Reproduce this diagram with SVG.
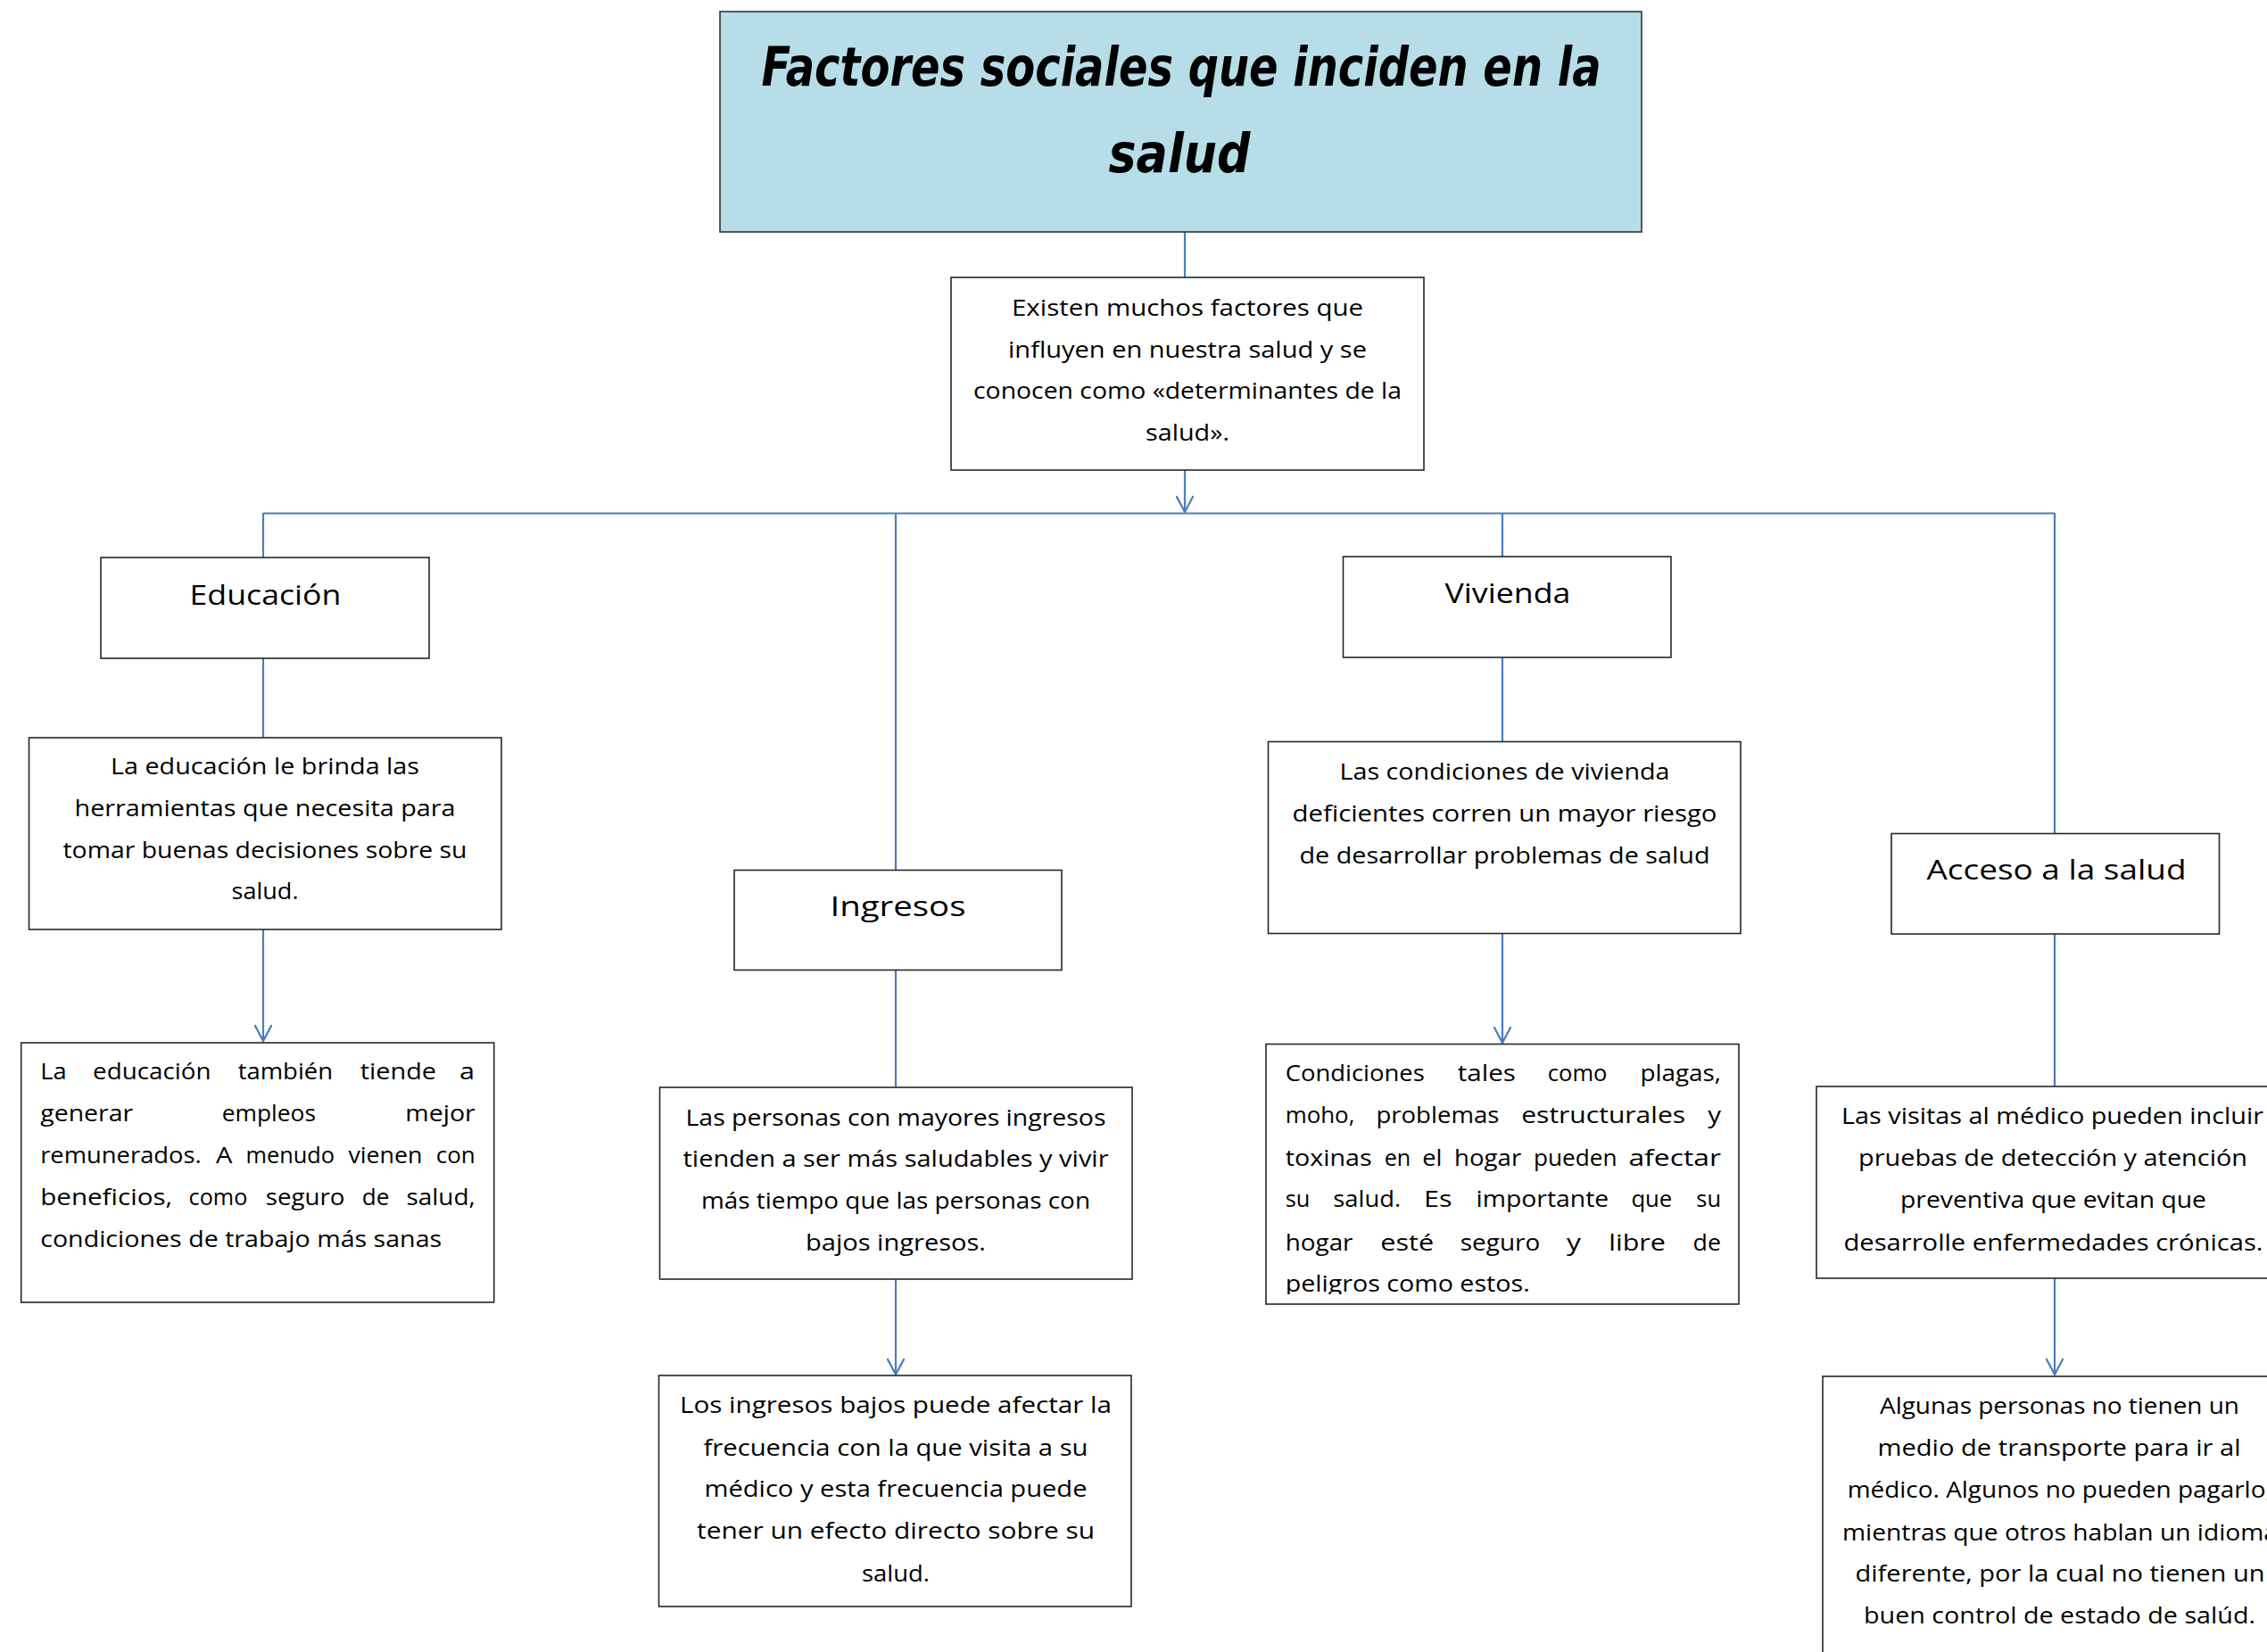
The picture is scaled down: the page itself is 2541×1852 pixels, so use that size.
<svg xmlns="http://www.w3.org/2000/svg" width="2541" height="1852" viewBox="0 0 2541 1852">
<defs>
<style>
.box{fill:#ffffff;stroke:#262626;stroke-width:1.6}
.title-box{fill:#b7dde8;stroke:#333333;stroke-width:1.6}
.conn{fill:none;stroke:#4a7ebb;stroke-width:2.2}
.t{font-family:"Open Sans","Noto Sans","DejaVu Sans",sans-serif;font-size:26px;fill:#000}
.c{text-anchor:middle}
.h{font-family:"Open Sans","Noto Sans","DejaVu Sans",sans-serif;font-size:31px;fill:#000;text-anchor:middle}
.title{font-family:"DejaVu Sans","Liberation Sans",sans-serif;font-weight:bold;font-style:italic;font-size:60px;fill:#000;text-anchor:middle}
</style>
<marker id="arr" viewBox="0 0 22 20" refX="20" refY="10" markerWidth="22" markerHeight="20" markerUnits="userSpaceOnUse" orient="auto">
<path d="M2,0.5 L20,10 L2,19.5" fill="none" stroke="#4a7ebb" stroke-width="2.2"/>
</marker>
<clipPath id="clipViv"><rect x="1419" y="1171" width="530" height="280"/></clipPath>
</defs>
<rect width="2541" height="1852" fill="#ffffff"/>

<g id="connectors">
<line class="conn" x1="1328" y1="260" x2="1328" y2="311"/>
<line class="conn" x1="1328" y1="527" x2="1328" y2="574" marker-end="url(#arr)"/>
<line class="conn" x1="295" y1="575.5" x2="2303" y2="575.5"/>
<line class="conn" x1="295" y1="575" x2="295" y2="625"/>
<line class="conn" x1="1004" y1="575" x2="1004" y2="975"/>
<line class="conn" x1="1684" y1="575" x2="1684" y2="624"/>
<line class="conn" x1="2303" y1="575" x2="2303" y2="934"/>
<line class="conn" x1="295" y1="738" x2="295" y2="827"/>
<line class="conn" x1="295" y1="1042" x2="295" y2="1167" marker-end="url(#arr)"/>
<line class="conn" x1="1004" y1="1088" x2="1004" y2="1219"/>
<line class="conn" x1="1004" y1="1434" x2="1004" y2="1541" marker-end="url(#arr)"/>
<line class="conn" x1="1684" y1="737" x2="1684" y2="832"/>
<line class="conn" x1="1684" y1="1047" x2="1684" y2="1169" marker-end="url(#arr)"/>
<line class="conn" x1="2303" y1="1047" x2="2303" y2="1218"/>
<line class="conn" x1="2303" y1="1433" x2="2303" y2="1541" marker-end="url(#arr)"/>
</g>

<g id="title">
<rect class="title-box" x="807" y="13" width="1033" height="247"/>
<text class="title" x="1324" y="96" textLength="941" lengthAdjust="spacingAndGlyphs">Factores sociales que inciden en la</text>
<text class="title" x="1322" y="193" textLength="159" lengthAdjust="spacingAndGlyphs">salud</text>
</g>

<g id="intro">
<rect class="box" x="1066" y="311" width="530" height="216"/>
<text class="t c" x="1331" y="354" textLength="394" lengthAdjust="spacingAndGlyphs">Existen muchos factores que</text>
<text class="t c" x="1331" y="400.5" textLength="402" lengthAdjust="spacingAndGlyphs">influyen en nuestra salud y se</text>
<text class="t c" x="1331" y="447" textLength="480" lengthAdjust="spacingAndGlyphs">conocen como «determinantes de la</text>
<text class="t c" x="1331" y="494" textLength="94" lengthAdjust="spacingAndGlyphs">salud».</text>
</g>

<g id="educacion">
<rect class="box" x="113" y="625" width="368" height="113"/>
<text class="h" x="297.5" y="678" textLength="170" lengthAdjust="spacingAndGlyphs">Educación</text>
</g>

<g id="educacion-texto">
<rect class="box" x="32.5" y="827" width="529.5" height="215"/>
<text class="t c" x="297" y="868" textLength="346" lengthAdjust="spacingAndGlyphs">La educación le brinda las</text>
<text class="t c" x="297" y="915" textLength="427" lengthAdjust="spacingAndGlyphs">herramientas que necesita para</text>
<text class="t c" x="297" y="961.5" textLength="453" lengthAdjust="spacingAndGlyphs">tomar buenas decisiones sobre su</text>
<text class="t c" x="297" y="1008" textLength="75" lengthAdjust="spacingAndGlyphs">salud.</text>
</g>

<g id="educacion-empleos">
<rect class="box" x="23.7" y="1169" width="530" height="291"/>
<text class="t" x="45.2" y="1210" textLength="29.4" lengthAdjust="spacingAndGlyphs">La</text>
<text class="t" x="104.1" y="1210" textLength="132.4" lengthAdjust="spacingAndGlyphs">educación</text>
<text class="t" x="266.7" y="1210" textLength="106.4" lengthAdjust="spacingAndGlyphs">también</text>
<text class="t" x="403.7" y="1210" textLength="85.4" lengthAdjust="spacingAndGlyphs">tiende</text>
<text class="t" x="515" y="1210" textLength="17" lengthAdjust="spacingAndGlyphs">a</text>
<text class="t" x="45.2" y="1257" textLength="104" lengthAdjust="spacingAndGlyphs">generar</text>
<text class="t" x="248.8" y="1257" textLength="105.2" lengthAdjust="spacingAndGlyphs">empleos</text>
<text class="t" x="454.3" y="1257" textLength="78.4" lengthAdjust="spacingAndGlyphs">mejor</text>
<text class="t" x="45.2" y="1304" textLength="180.6" lengthAdjust="spacingAndGlyphs">remunerados.</text>
<text class="t" x="241.9" y="1304" textLength="18.4" lengthAdjust="spacingAndGlyphs">A</text>
<text class="t" x="275.5" y="1304" textLength="99.5" lengthAdjust="spacingAndGlyphs">menudo</text>
<text class="t" x="390.4" y="1304" textLength="83" lengthAdjust="spacingAndGlyphs">vienen</text>
<text class="t" x="488.7" y="1304" textLength="44" lengthAdjust="spacingAndGlyphs">con</text>
<text class="t" x="45.2" y="1351" textLength="148" lengthAdjust="spacingAndGlyphs">beneficios,</text>
<text class="t" x="211.6" y="1351" textLength="65.8" lengthAdjust="spacingAndGlyphs">como</text>
<text class="t" x="297.7" y="1351" textLength="88.8" lengthAdjust="spacingAndGlyphs">seguro</text>
<text class="t" x="405.7" y="1351" textLength="30.6" lengthAdjust="spacingAndGlyphs">de</text>
<text class="t" x="455.4" y="1351" textLength="77.3" lengthAdjust="spacingAndGlyphs">salud,</text>
<text class="t" x="45.2" y="1398" textLength="450" lengthAdjust="spacingAndGlyphs">condiciones de trabajo más sanas</text>
</g>

<g id="ingresos">
<rect class="box" x="823" y="975.5" width="367" height="112"/>
<text class="h" x="1006.5" y="1027" textLength="152" lengthAdjust="spacingAndGlyphs">Ingresos</text>
</g>

<g id="ingresos-texto">
<rect class="box" x="739.5" y="1219" width="529.5" height="215"/>
<text class="t c" x="1004" y="1261.5" textLength="471" lengthAdjust="spacingAndGlyphs">Las personas con mayores ingresos</text>
<text class="t c" x="1004" y="1308" textLength="477" lengthAdjust="spacingAndGlyphs">tienden a ser más saludables y vivir</text>
<text class="t c" x="1004" y="1355" textLength="436" lengthAdjust="spacingAndGlyphs">más tiempo que las personas con</text>
<text class="t c" x="1004" y="1401.5" textLength="202" lengthAdjust="spacingAndGlyphs">bajos ingresos.</text>
</g>

<g id="ingresos-bajos">
<rect class="box" x="738.5" y="1542" width="529.5" height="259"/>
<text class="t c" x="1004" y="1584" textLength="484" lengthAdjust="spacingAndGlyphs">Los ingresos bajos puede afectar la</text>
<text class="t c" x="1004" y="1631.5" textLength="431" lengthAdjust="spacingAndGlyphs">frecuencia con la que visita a su</text>
<text class="t c" x="1004" y="1678" textLength="429" lengthAdjust="spacingAndGlyphs">médico y esta frecuencia puede</text>
<text class="t c" x="1004" y="1725" textLength="446" lengthAdjust="spacingAndGlyphs">tener un efecto directo sobre su</text>
<text class="t c" x="1004" y="1773" textLength="76" lengthAdjust="spacingAndGlyphs">salud.</text>
</g>

<g id="vivienda">
<rect class="box" x="1505.5" y="624" width="367.5" height="113"/>
<text class="h" x="1690" y="676" textLength="141" lengthAdjust="spacingAndGlyphs">Vivienda</text>
</g>

<g id="vivienda-texto">
<rect class="box" x="1421.5" y="831.5" width="529.5" height="215"/>
<text class="t c" x="1686.5" y="874" textLength="370" lengthAdjust="spacingAndGlyphs">Las condiciones de vivienda</text>
<text class="t c" x="1686.5" y="920.5" textLength="476" lengthAdjust="spacingAndGlyphs">deficientes corren un mayor riesgo</text>
<text class="t c" x="1686.5" y="968" textLength="460" lengthAdjust="spacingAndGlyphs">de desarrollar problemas de salud</text>
</g>

<g id="vivienda-condiciones">
<rect class="box" x="1419" y="1170.5" width="530" height="291.5"/>
<g clip-path="url(#clipViv)">
<text class="t" x="1440.7" y="1211.5" textLength="156.1" lengthAdjust="spacingAndGlyphs">Condiciones</text>
<text class="t" x="1633.8" y="1211.5" textLength="65.1" lengthAdjust="spacingAndGlyphs">tales</text>
<text class="t" x="1734.8" y="1211.5" textLength="66.6" lengthAdjust="spacingAndGlyphs">como</text>
<text class="t" x="1838.4" y="1211.5" textLength="90.6" lengthAdjust="spacingAndGlyphs">plagas,</text>
<text class="t" x="1440.7" y="1259" textLength="77.7" lengthAdjust="spacingAndGlyphs">moho,</text>
<text class="t" x="1542.4" y="1259" textLength="138" lengthAdjust="spacingAndGlyphs">problemas</text>
<text class="t" x="1705.2" y="1259" textLength="183.9" lengthAdjust="spacingAndGlyphs">estructurales</text>
<text class="t" x="1914.2" y="1259" textLength="14.8" lengthAdjust="spacingAndGlyphs">y</text>
<text class="t" x="1440.7" y="1306.5" textLength="96.9" lengthAdjust="spacingAndGlyphs">toxinas</text>
<text class="t" x="1551.7" y="1306.5" textLength="29.6" lengthAdjust="spacingAndGlyphs">en</text>
<text class="t" x="1594.2" y="1306.5" textLength="22.2" lengthAdjust="spacingAndGlyphs">el</text>
<text class="t" x="1630.1" y="1306.5" textLength="75.1" lengthAdjust="spacingAndGlyphs">hogar</text>
<text class="t" x="1718.9" y="1306.5" textLength="93.6" lengthAdjust="spacingAndGlyphs">pueden</text>
<text class="t" x="1825.4" y="1306.5" textLength="103.6" lengthAdjust="spacingAndGlyphs">afectar</text>
<text class="t" x="1440.7" y="1353" textLength="27.7" lengthAdjust="spacingAndGlyphs">su</text>
<text class="t" x="1494.3" y="1353" textLength="75.8" lengthAdjust="spacingAndGlyphs">salud.</text>
<text class="t" x="1596.1" y="1353" textLength="31.4" lengthAdjust="spacingAndGlyphs">Es</text>
<text class="t" x="1654.5" y="1353" textLength="148.7" lengthAdjust="spacingAndGlyphs">importante</text>
<text class="t" x="1828.4" y="1353" textLength="45.9" lengthAdjust="spacingAndGlyphs">que</text>
<text class="t" x="1901.3" y="1353" textLength="27.7" lengthAdjust="spacingAndGlyphs">su</text>
<text class="t" x="1440.7" y="1401.5" textLength="75.8" lengthAdjust="spacingAndGlyphs">hogar</text>
<text class="t" x="1547.2" y="1401.5" textLength="59.9" lengthAdjust="spacingAndGlyphs">esté</text>
<text class="t" x="1636.8" y="1401.5" textLength="89.5" lengthAdjust="spacingAndGlyphs">seguro</text>
<text class="t" x="1755.9" y="1401.5" textLength="15.9" lengthAdjust="spacingAndGlyphs">y</text>
<text class="t" x="1803.3" y="1401.5" textLength="63.6" lengthAdjust="spacingAndGlyphs">libre</text>
<text class="t" x="1897.6" y="1401.5" textLength="31.4" lengthAdjust="spacingAndGlyphs">de</text>
<text class="t" x="1440.7" y="1448" textLength="274" lengthAdjust="spacingAndGlyphs">peligros como estos.</text>
</g>
</g>

<g id="acceso">
<rect class="box" x="2120" y="934.5" width="367.5" height="112.5"/>
<text class="h" x="2305" y="986" textLength="291" lengthAdjust="spacingAndGlyphs">Acceso a la salud</text>
</g>

<g id="acceso-texto">
<rect class="box" x="2036" y="1218" width="560" height="215"/>
<text class="t c" x="2300.5" y="1259.5" textLength="473" lengthAdjust="spacingAndGlyphs">Las visitas al médico pueden incluir</text>
<text class="t c" x="2301" y="1307" textLength="436" lengthAdjust="spacingAndGlyphs">pruebas de detección y atención</text>
<text class="t c" x="2301.5" y="1354" textLength="343" lengthAdjust="spacingAndGlyphs">preventiva que evitan que</text>
<text class="t c" x="2301.5" y="1401.5" textLength="470" lengthAdjust="spacingAndGlyphs">desarrolle enfermedades crónicas.</text>
</g>

<g id="acceso-barreras">
<rect class="box" x="2043" y="1543" width="560" height="360"/>
<text class="t c" x="2308.5" y="1585" textLength="403" lengthAdjust="spacingAndGlyphs">Algunas personas no tienen un</text>
<text class="t c" x="2308" y="1631.5" textLength="407" lengthAdjust="spacingAndGlyphs">medio de transporte para ir al</text>
<text class="t" x="2070.7" y="1679" textLength="476" lengthAdjust="spacingAndGlyphs">médico. Algunos no pueden pagarlo,</text>
<text class="t" x="2065" y="1726.5" textLength="488" lengthAdjust="spacingAndGlyphs">mientras que otros hablan un idioma</text>
<text class="t c" x="2309" y="1773" textLength="459" lengthAdjust="spacingAndGlyphs">diferente, por la cual no tienen un</text>
<text class="t c" x="2308.5" y="1820" textLength="439" lengthAdjust="spacingAndGlyphs">buen control de estado de salúd.</text>
</g>
</svg>
